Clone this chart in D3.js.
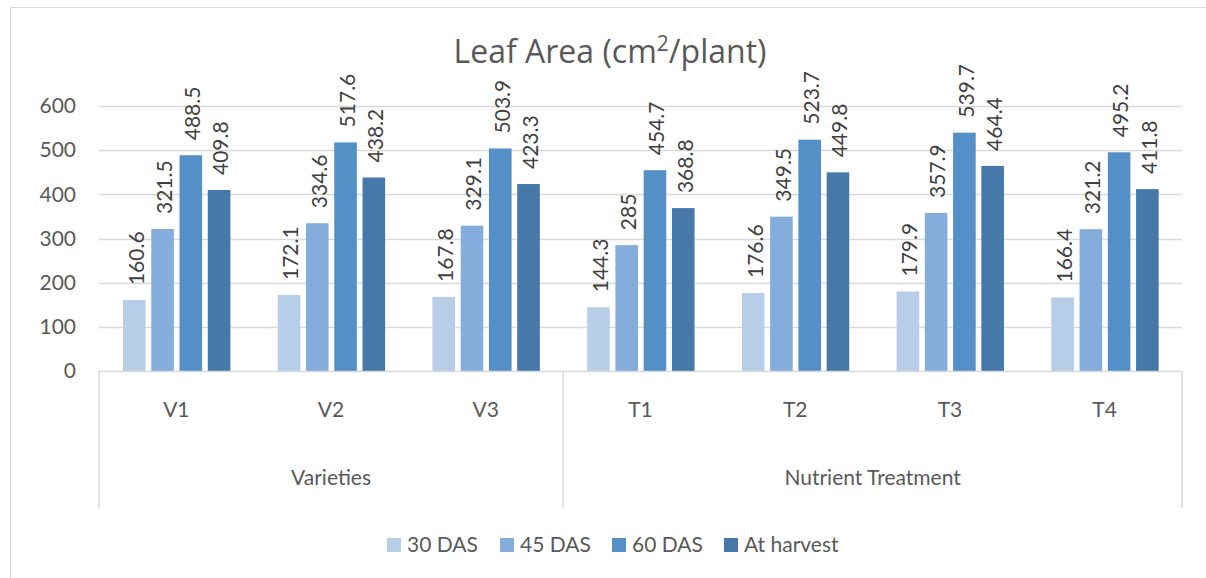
<!DOCTYPE html>
<html>
<head>
<meta charset="utf-8">
<script src="https://cdn.jsdelivr.net/npm/d3@7"></script>
<style>
  body { margin: 0; background: #fff; }
  svg { display: block; font-family: Lato, "Open Sans", sans-serif; }
</style>
</head>
<body>
<div id="chart"></div>
<script>
// data
const categories = ['V1', 'V2', 'V3', 'T1', 'T2', 'T3', 'T4'];
const groups = [
    { name: 'Varieties', members: ['V1', 'V2', 'V3'] },
    { name: 'Nutrient Treatment', members: ['T1', 'T2', 'T3', 'T4'] }
];
const seriesNames = ['30 DAS', '45 DAS', '60 DAS', 'At harvest'];
const das30 = [160.6, 172.1, 167.8, 144.3, 176.6, 179.9, 166.4];
const das45 = [321.5, 334.6, 329.1, 285, 349.5, 357.9, 321.2];
const das60 = [488.5, 517.6, 503.9, 454.7, 523.7, 539.7, 495.2];
const atHarvest = [409.8, 438.2, 423.3, 368.8, 449.8, 464.4, 411.8];
const yTicks = [0, 100, 200, 300, 400, 500, 600];

const seriesValues = [das30, das45, das60, atHarvest];
const colors = ['#b7cde8', '#85addb', '#5490c7', '#4678aa'];

const width = 1206, height = 578;
const margin = { left: 99, right: 24, top: 106, bottom: 207 };
const plotW = width - margin.left - margin.right;
const plotH = height - margin.top - margin.bottom;

const svg = d3.select('#chart').append('svg')
    .attr('width', width)
    .attr('height', height);

// outer chart border
svg.append('rect')
    .attr('x', 10.5).attr('y', 7.5)
    .attr('width', width + 10).attr('height', height + 10)
    .attr('fill', 'none')
    .attr('stroke', '#d9d9d9');

// title
const title = svg.append('text')
    .attr('x', 610).attr('y', 63)
    .attr('text-anchor', 'middle')
    .attr('font-family', '"Open Sans", sans-serif')
    .attr('font-size', 32)
    .attr('fill', '#595959');
title.append('tspan').text('Leaf Area (cm');
title.append('tspan').attr('dy', -12).attr('font-size', 21).text('2');
title.append('tspan').attr('dy', 12).text('/plant)');

const g = svg.append('g').attr('transform', `translate(${margin.left},${margin.top})`);

const x = d3.scaleBand().domain(categories).range([0, plotW]).paddingInner(0).paddingOuter(0);
const xs = d3.scaleBand().domain(seriesNames).range([24, 131.4]).paddingInner(0.2);
const y = d3.scaleLinear().domain([0, 600]).range([plotH, 0]);

// gridlines
g.append('g')
    .selectAll('line')
    .data(yTicks.filter(t => t > 0))
    .enter().append('line')
    .attr('x1', 0).attr('x2', plotW)
    .attr('y1', d => Math.round(y(d)) + 0.5)
    .attr('y2', d => Math.round(y(d)) + 0.5)
    .attr('stroke', '#d9d9d9')
    .attr('stroke-width', 1.5);

// y tick labels
const yAxis = g.append('g')
    .call(d3.axisLeft(y).tickValues(yTicks).tickSize(0).tickPadding(23));
yAxis.select('.domain').remove();
yAxis.selectAll('text')
    .attr('font-size', 21)
    .attr('fill', '#595959')
    .attr('font-family', 'Lato, "Open Sans", sans-serif');

// bars
seriesNames.forEach((s, si) => {
    const bars = g.append('g');
    bars.selectAll('rect')
        .data(seriesValues[si])
        .enter().append('rect')
        .attr('x', (d, i) => x(categories[i]) + xs(s))
        .attr('y', d => y(d))
        .attr('width', xs.bandwidth())
        .attr('height', d => plotH - y(d))
        .attr('fill', colors[si]);

    bars.selectAll('text')
        .data(seriesValues[si])
        .enter().append('text')
        .attr('transform', (d, i) => {
            const cx = x(categories[i]) + xs(s) + xs.bandwidth() / 2 + 2;
            return `translate(${cx},${y(d) - 15}) rotate(-90)`;
        })
        .attr('dy', '0.35em')
        .attr('font-size', 21)
        .attr('fill', '#404040')
        .text(d => d);
});

// category axis (multi-level)
const axisBottom = plotH + 137;
g.append('line')
    .attr('x1', 0).attr('x2', plotW)
    .attr('y1', plotH + 0.5).attr('y2', plotH + 0.5)
    .attr('stroke', '#d9d9d9').attr('stroke-width', 1.5);

const dividers = [0];
let idx = 0;
groups.forEach(grp => { idx += grp.members.length; dividers.push(idx); });
g.append('g')
    .selectAll('line')
    .data(dividers)
    .enter().append('line')
    .attr('x1', d => d === categories.length ? plotW : x(categories[d]))
    .attr('x2', d => d === categories.length ? plotW : x(categories[d]))
    .attr('y1', plotH).attr('y2', axisBottom)
    .attr('stroke', '#d9d9d9').attr('stroke-width', 1.5);

g.append('g')
    .selectAll('text')
    .data(categories)
    .enter().append('text')
    .attr('x', d => x(d) + x.bandwidth() / 2)
    .attr('y', plotH + 46)
    .attr('text-anchor', 'middle')
    .attr('font-size', 21)
    .attr('fill', '#595959')
    .text(d => d);

g.append('g')
    .selectAll('text')
    .data(groups)
    .enter().append('text')
    .attr('x', d => {
        const a = x(d.members[0]);
        const b = x(d.members[d.members.length - 1]) + x.bandwidth();
        return (a + b) / 2;
    })
    .attr('y', plotH + 114)
    .attr('text-anchor', 'middle')
    .attr('font-size', 21)
    .attr('fill', '#595959')
    .text(d => d.name);

// legend
const legendX = [387, 500, 612, 724];
const legend = svg.append('g');
seriesNames.forEach((s, i) => {
    legend.append('rect')
        .attr('x', legendX[i]).attr('y', 538)
        .attr('width', 14).attr('height', 14)
        .attr('fill', colors[i]);
    legend.append('text')
        .attr('x', legendX[i] + 20).attr('y', 552)
        .attr('font-size', 21)
        .attr('fill', '#595959')
        .text(s);
});
</script>
</body>
</html>
